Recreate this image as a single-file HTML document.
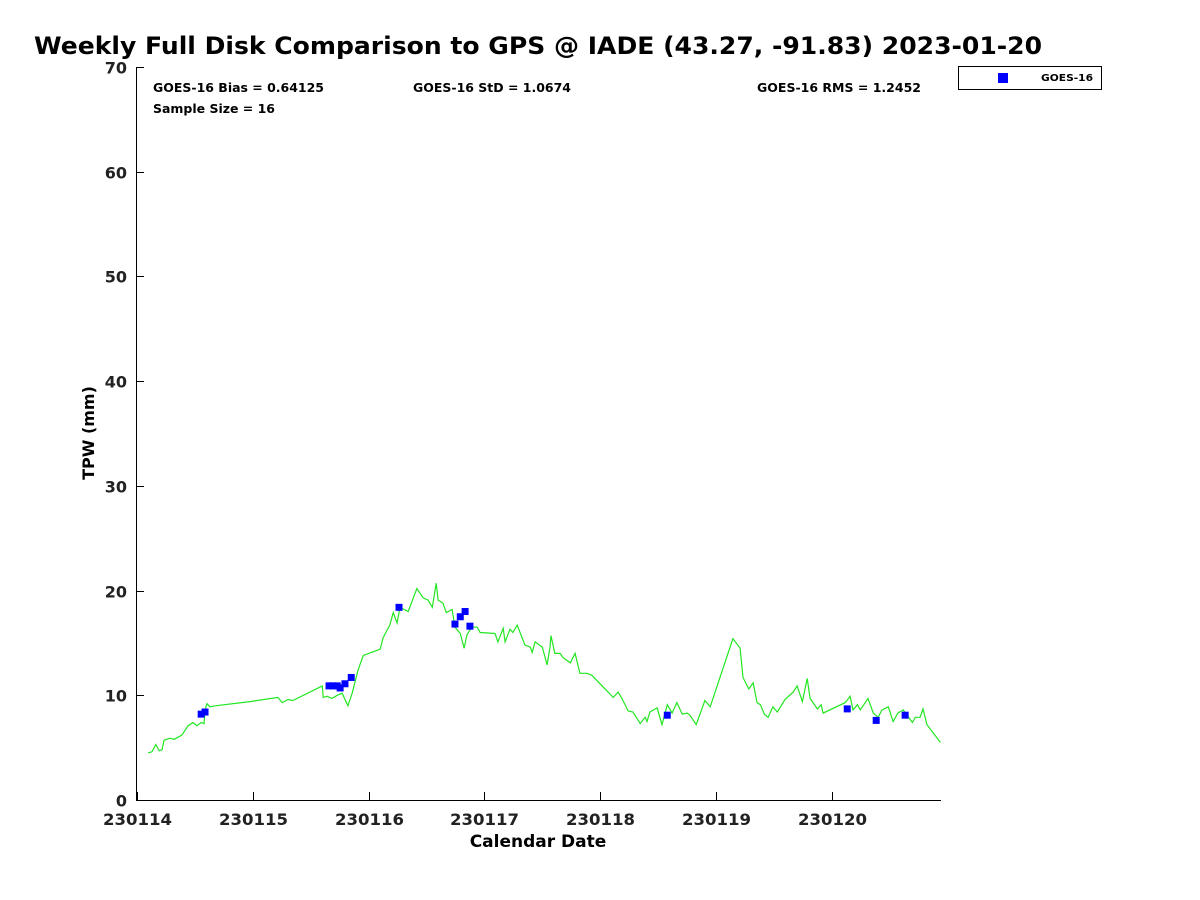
<!DOCTYPE html>
<html><head><meta charset="utf-8"><style>
body{margin:0;background:#fff;}
svg{display:block;font-family:"DejaVu Sans","Liberation Sans",sans-serif;font-weight:bold;}
</style></head><body>
<svg id="chart" width="1200" height="900" xmlns="http://www.w3.org/2000/svg">
<rect width="1200" height="900" fill="#fff"/>
<text x="34" y="54" font-size="24" fill="#000" textLength="1008" lengthAdjust="spacingAndGlyphs">Weekly Full Disk Comparison to GPS @ IADE (43.27, -91.83) 2023-01-20</text>
<g id="axes"></g>
<g id="marks"></g>
<text x="153" y="92" font-size="12" textLength="171" lengthAdjust="spacingAndGlyphs">GOES-16 Bias = 0.64125</text>
<text x="153" y="113" font-size="12" textLength="122" lengthAdjust="spacingAndGlyphs">Sample Size = 16</text>
<text x="413" y="92" font-size="12" textLength="158" lengthAdjust="spacingAndGlyphs">GOES-16 StD = 1.0674</text>
<text x="757" y="92" font-size="12" textLength="164" lengthAdjust="spacingAndGlyphs">GOES-16 RMS = 1.2452</text>
<g>
<rect x="958.5" y="66.5" width="143" height="23" fill="#fff" stroke="#000" stroke-width="1"/>
<rect x="998" y="73" width="10" height="10" fill="#0000ff"/>
<text x="1041" y="81" font-size="10" textLength="52" lengthAdjust="spacingAndGlyphs">GOES-16</text>
</g>
<text x="538" y="847" font-size="17" text-anchor="middle">Calendar Date</text>
<text transform="translate(94,433) rotate(-90)" font-size="16" text-anchor="middle">TPW (mm)</text>
</svg>
<script>
// hours since 230114 00Z
const gpsHours=[2.3,3.1,3.9,4.6,5.2,5.6,6.8,7.7,8.5,9.3,10.6,11.6,12.4,13.3,13.9,14.1,14.5,15.1,16.2,23.4,29.2,30.1,31.3,32.3,38.4,38.6,39.4,40.4,41.5,42.5,43.7,44.6,45.8,46.9,50.4,51.0,52.4,53.1,53.9,54.5,56.2,58.0,59.3,60.3,61.2,62.0,62.4,63.4,64.1,65.3,65.9,67.0,67.8,68.4,69.4,70.5,71.1,74.2,74.8,75.9,76.3,77.3,77.9,78.8,80.4,81.5,81.9,82.5,84.0,85.0,85.6,85.8,86.6,87.7,88.3,89.8,90.8,91.8,93.3,94.3,98.7,99.7,100.5,101.8,102.8,104.3,105.3,105.7,106.3,107.8,108.8,109.9,110.9,111.9,113.0,114.0,114.6,115.9,117.7,118.8,123.5,125.0,125.6,126.8,127.7,128.5,129.2,130.0,130.8,131.8,132.7,134.3,136.0,136.8,137.9,138.9,139.5,141.0,141.8,142.2,146.8,147.8,148.4,149.3,149.9,151.5,152.6,153.6,154.4,155.7,156.7,157.7,158.8,160.7,161.3,162.3,162.9,163.7,166.5];
const gpsTpw=[4.5,4.6,5.3,4.7,4.8,5.7,5.9,5.8,6.0,6.2,7.1,7.4,7.1,7.4,7.3,8.6,9.2,8.9,9.0,9.4,9.8,9.3,9.6,9.5,10.9,9.8,9.9,9.7,10.0,10.2,9.0,10.2,12.4,13.8,14.4,15.5,16.7,17.9,16.9,18.4,18.0,20.2,19.3,19.1,18.4,20.7,19.1,18.8,17.9,18.2,16.5,15.9,14.5,15.8,16.5,16.5,16.0,15.9,15.1,16.4,15.1,16.3,16.0,16.7,14.8,14.6,14.1,15.1,14.6,12.9,14.6,15.7,14.0,14.0,13.6,13.1,14.0,12.1,12.1,11.9,9.8,10.3,9.7,8.5,8.4,7.3,7.9,7.5,8.4,8.8,7.2,9.1,8.3,9.3,8.2,8.3,8.1,7.2,9.5,8.9,15.4,14.5,11.7,10.6,11.2,9.3,9.1,8.2,7.9,8.9,8.4,9.6,10.3,10.9,9.4,11.6,9.7,8.7,9.1,8.3,9.3,9.9,8.6,9.1,8.6,9.7,8.3,7.9,8.6,8.9,7.5,8.3,8.6,7.4,7.9,7.9,8.7,7.2,5.5];
const goesHours=[13.3,14.1,39.8,40.6,41.5,42.1,43.1,44.4,54.3,65.9,67.0,68.0,69.0,109.9,147.2,153.2,159.2];
const goesTpw=[8.2,8.4,10.9,10.9,10.9,10.7,11.1,11.7,18.4,16.8,17.5,18.0,16.6,8.1,8.7,7.6,8.1];
const xTickDays=[0,1,2,3,4,5,6];
const xTickLabels=["230114","230115","230116","230117","230118","230119","230120"];
const yTicks=[0,10,20,30,40,50,60,70];

const NS="http://www.w3.org/2000/svg";
const X0=137,PXH=115.8/24,Y0=800,PXV=733/70;
const xs=h=>X0+h*PXH, ys=v=>Y0-v*PXV;
function mk(tag,attrs,parent){const e=document.createElementNS(NS,tag);for(const k in attrs)e.setAttribute(k,attrs[k]);parent.appendChild(e);return e;}
const axes=document.getElementById('axes'),marks=document.getElementById('marks');
let a=mk('line',{x1:136.5,y1:67,x2:136.5,y2:800.5,stroke:'#000','stroke-width':1},axes);


a=mk('line',{x1:136,y1:800.5,x2:941,y2:800.5,stroke:'#000','stroke-width':1},axes);


yTicks.forEach(v=>{const y=Math.round(ys(v))+0.5;
 const t=mk('line',{x1:136,y1:y,x2:144,y2:y,stroke:'#000'},axes);
 
 
 const l=mk('text',{x:127,y:y+6,'font-size':16,'text-anchor':'end',fill:'#222'},axes);l.textContent=v;
 
 
});
xTickDays.forEach((d,i)=>{const x=Math.round(xs(d*24))+0.5;
 const t=mk('line',{x1:x,y1:800,x2:x,y2:792,stroke:'#000'},axes);
 
 
 const l=mk('text',{x:x,y:825,'font-size':16,'text-anchor':'middle',fill:'#222',textLength:69,lengthAdjust:'spacingAndGlyphs'},axes);l.textContent=xTickLabels[i];
 
 
});
const pts=gpsHours.map((h,i)=>xs(h).toFixed(1)+','+ys(gpsTpw[i]).toFixed(1)).join(' ');
const line=mk('polyline',{points:pts,fill:'none',stroke:'#22e622','stroke-width':1.2},marks);


goesHours.forEach((h,i)=>{
 const r=mk('rect',{x:xs(h)-3.5,y:ys(goesTpw[i])-3.5,width:7,height:7,fill:'#0000ff'},marks);
 
 
});
</script>
</body></html>
